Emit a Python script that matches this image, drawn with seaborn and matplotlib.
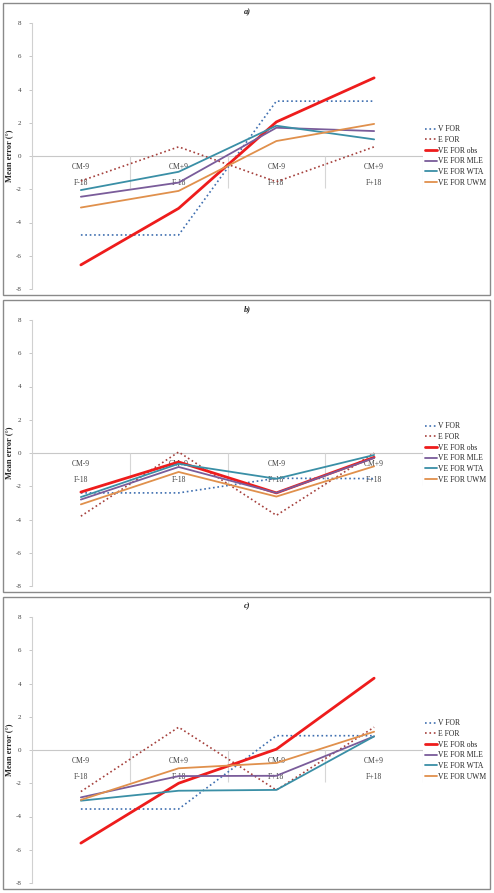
import matplotlib
matplotlib.use("Agg")
import matplotlib.pyplot as plt
from matplotlib.patches import Rectangle
import seaborn as sns
import numpy as np
import pandas as pd

sns.set_style("white")
plt.rcParams['font.family'] = ['Liberation Serif', 'DejaVu Serif']

# ---- data ----
cat_top = ["CM-9", "CM+9", "CM-9", "CM+9"]
cat_bottom = ["F-18", "F-18", "F+18", "F+18"]
series_names = ["V FOR", "E FOR", "VE FOR obs", "VE FOR MLE", "VE FOR WTA", "VE FOR UWM"]
panel_titles = ["a)", "b)", "c)"]

a_v_for = [-4.75, -4.75, 3.3, 3.3]
a_e_for = [-1.5, 0.55, -1.55, 0.55]
a_obs = [-6.55, -3.15, 2.05, 4.7]
a_mle = [-2.45, -1.6, 1.7, 1.5]
a_wta = [-2.05, -0.95, 1.82, 1.0]
a_uwm = [-3.1, -2.1, 0.9, 1.93]

b_v_for = [-2.4, -2.4, -1.52, -1.54]
b_e_for = [-3.8, 0.06, -3.75, 0.0]
b_obs = [-2.35, -0.54, -2.4, -0.26]
b_mle = [-2.8, -0.84, -2.4, -0.3]
b_wta = [-2.65, -0.65, -1.55, -0.12]
b_uwm = [-3.09, -1.14, -2.62, -0.8]

c_v_for = [-3.55, -3.55, 0.86, 0.86]
c_e_for = [-2.5, 1.37, -2.41, 1.37]
c_obs = [-5.6, -2.0, 0.05, 4.32]
c_mle = [-2.85, -1.57, -1.55, 0.82]
c_wta = [-3.05, -2.45, -2.4, 0.82]
c_uwm = [-3.0, -1.1, -0.78, 1.1]

panels = [
    [a_v_for, a_e_for, a_obs, a_mle, a_wta, a_uwm],
    [b_v_for, b_e_for, b_obs, b_mle, b_wta, b_uwm],
    [c_v_for, c_e_for, c_obs, c_mle, c_wta, c_uwm],
]

colors = ["#3F6FB0", "#A5403C", "#EE1C1C", "#7A5C9A", "#3A8FA6", "#E0904C"]
styles = [":", ":", "-", "-", "-", "-"]
widths = [1.2, 1.2, 2.0, 1.3, 1.3, 1.3]

W, H = 494, 893
fig = plt.figure(figsize=(W / 100, H / 100), dpi=100)

tops = [23, 320, 617]
ax_left, ax_right = 32, 423
ax_h = 266

for p, T in enumerate(tops):
    # panel border
    fig.add_artist(Rectangle((3 / W, 1 - (T + 272) / H), 487 / W, 292 / H,
                             transform=fig.transFigure, fill=False,
                             edgecolor="#8a8a8a", lw=1.0))
    ax = fig.add_axes([ax_left / W, 1 - (T + ax_h) / H, (ax_right - ax_left) / W, ax_h / H])
    x = np.arange(len(cat_top))
    for name, vals, c, ls, lw in zip(series_names, panels[p], colors, styles, widths):
        df = pd.DataFrame({"x": x, "y": vals})
        sns.lineplot(data=df, x="x", y="y", ax=ax, color=c, linestyle=ls, lw=lw,
                     label=name, legend=False)
    ax.set_xlim(-0.5, 3.5)
    ax.set_ylim(-8, 8)
    ax.set_yticks(np.arange(-8, 9, 2))
    ax.set_yticklabels([str(v) for v in range(-8, 9, 2)], fontsize=5, color="#404040")
    ax.tick_params(axis="y", length=2.5, width=0.6, color="#bfbfbf", pad=5, left=True)
    ax.set_xticks([])
    ax.set_xlabel("")
    ax.set_ylabel("Mean error (°)", fontsize=6, fontweight="bold")
    ax.yaxis.set_label_coords((13 - ax_left) / (ax_right - ax_left), 0.5)
    for s in ["top", "right", "bottom"]:
        ax.spines[s].set_visible(False)
    ax.spines["left"].set_color("#d0d0d0")
    ax.spines["left"].set_linewidth(0.8)
    ax.axhline(0, color="#c8c8c8", lw=0.8, zorder=0)
    ax.vlines([0.5, 1.5, 2.5, 3.5], -1.95, 0, color="#d6d6d6", lw=0.8, zorder=0)
    for i in range(len(cat_top)):
        ax.text(i, -0.66, cat_top[i], ha="center", va="center", fontsize=5.5, color="#404040", zorder=1)
        ax.text(i, -1.63, cat_bottom[i], ha="center", va="center", fontsize=5.5, color="#404040", zorder=1)
    ax.set_title("")
    fig.text(247 / W, 1 - (T - 11) / H, panel_titles[p], ha="center", va="center",
             fontsize=6, fontweight="bold", fontstyle="italic")
    h, l = ax.get_legend_handles_labels()
    fig.legend(h, l, loc="center left", bbox_to_anchor=(425 / W, 1 - (T + 133) / H),
               frameon=False, fontsize=5.5, handlelength=1.6, handletextpad=0.1,
               labelspacing=0.35, borderpad=0, borderaxespad=0)

fig.savefig("out.png", dpi=100)
